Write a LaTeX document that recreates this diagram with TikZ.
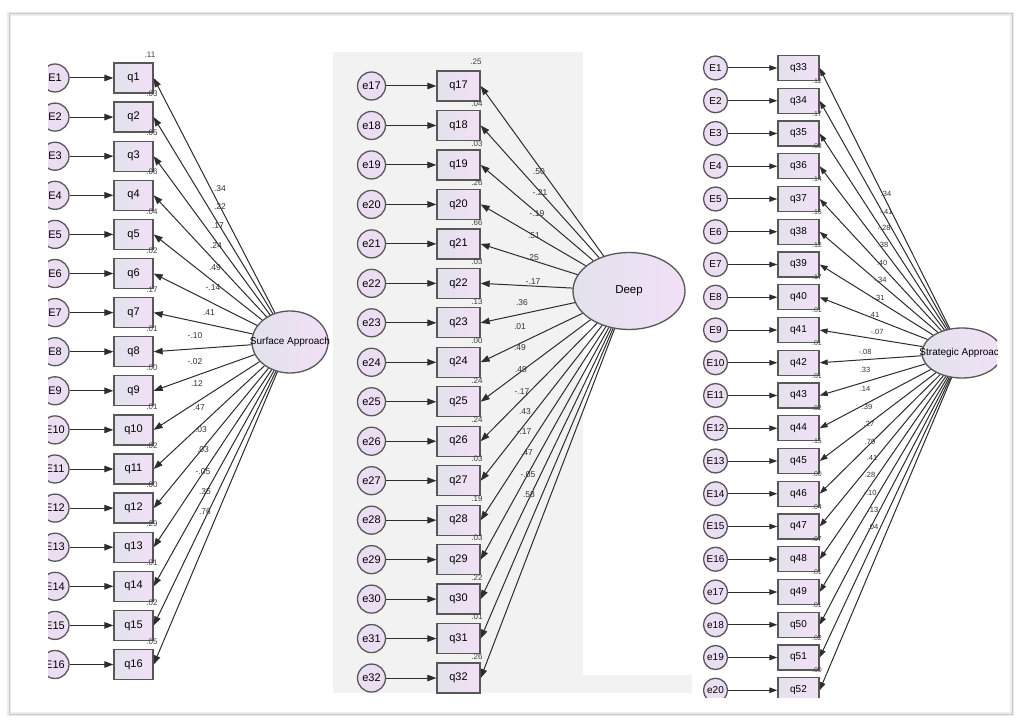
\documentclass[tikz,border=0pt]{standalone}
\usepackage{fontspec}
\setmainfont{Liberation Sans}
\usetikzlibrary{arrows.meta,shapes.geometric}
\definecolor{boxL}{RGB}{226,226,236}
\definecolor{boxR}{RGB}{242,224,246}
\definecolor{circF}{RGB}{236,222,242}
\definecolor{edgeC}{RGB}{88,88,88}
\definecolor{lineC}{RGB}{45,45,45}
\definecolor{panelG}{RGB}{242,242,242}
\definecolor{frameC}{RGB}{200,200,200}
\tikzset{
 obs/.style={draw=edgeC, line width=1.3pt, left color=boxL, right color=boxR, minimum width=39pt, minimum height=30pt, inner sep=0pt, font=\fontsize{11}{11}\selectfont},
 err/.style={circle, draw=edgeC, line width=1.3pt, fill=circF, minimum size=28pt, inner sep=0pt, font=\fontsize{11}{11}\selectfont},
 lat/.style={ellipse, draw=edgeC, line width=1.3pt, left color=boxL, right color=boxR, inner sep=0pt},
 loadarrow/.style={draw=lineC, line width=1pt, -{Triangle[length=9pt,width=6.5pt]}},
 coef/.style={font=\fontsize{8.5}{8.5}\selectfont, inner sep=0pt, text=black!80},
 rsq/.style={font=\fontsize{8}{8}\selectfont, inner sep=0pt, text=black!75},
}
\begin{document}
\begin{tikzpicture}[x=1pt,y=-1pt]
\fill[white] (0,0) rectangle (1022,727);
\useasboundingbox (0,0) rectangle (1022,727);
% frame
\draw[black!7, line width=4pt] (9,14) rectangle (1012,714);
\draw[frameC, line width=1pt] (9,14) rectangle (1012,714);
% middle grey panel
\fill[panelG] (333,52) rectangle (583,693);
\fill[panelG] (583,675) rectangle (692,693);

% ---------------- left panel ----------------
\begin{scope}
\clip (48,40) rectangle (333,700);
\node[lat, minimum width=76pt, minimum height=62pt] (sa) at (290,342) {};
\node[font=\fontsize{10}{10}\selectfont, inner sep=0pt] (satxt) at (sa.center) {Surface Approach};
\foreach \i in {1,...,16}{
  \pgfmathsetmacro\yy{78+39.1*(\i-1)}
  \node[err] (E\i) at (55,\yy) {E\i};
  \node[obs] (q\i) at (133.5,\yy) {q\i};
  \draw[loadarrow] (E\i) -- (q\i);
  \draw[loadarrow] (sa) -- (q\i.east);
}
\foreach \v/\x/\y [count=\i] in {.34/220/189,.22/220/207,.17/218/226,.24/216/246,.49/215/268,-.14/213/288,.41/209/313,-.10/195/336,-.02/195/362,.12/197/384,.47/199/408,.03/201/430,.03/203/450,-.05/203/472,.35/205/492,.76/205/512}{
  \node[coef] (lc\i) at (\x,\y) {\v};
}
\node[rsq] (lr0) at (150,55) {.11};
\foreach \v [count=\i] in {.03,.05,.06,.04,.02,.17,.01,.00,.01,.02,.00,.29,.01,.02,.05}{
  \pgfmathsetmacro\yy{78+39.1*(\i-1)+16}
  \node[rsq] (lr\i) at (152,\yy) {\v};
}
\end{scope}

% ---------------- middle panel ----------------
\node[lat, minimum width=112pt, minimum height=77pt] (deep) at (629,291) {};
\node[font=\fontsize{11.5}{11.5}\selectfont, inner sep=0pt] (deeptxt) at (deep.center) {Deep};
\foreach \i in {17,...,32}{
  \pgfmathsetmacro\yy{86+39.47*(\i-17)}
  \node[err] (e\i) at (371.5,\yy) {e\i};
  \node[obs, minimum width=43pt] (q\i) at (458.5,\yy) {q\i};
  \draw[loadarrow] (e\i) -- (q\i);
  \draw[loadarrow] (deep) -- (q\i.east);
}
\foreach \v/\x/\y [count=\i] in {.50/539/172,-.21/540/193,-.19/537/214,.51/534/236,.25/533/258,-.17/533/282,.36/522/303,.01/520/327,.49/520/348,.49/521/370,-.17/522/392,.43/525/412,-.17/524/432,.47/527/453,-.05/528/475,.58/529/495}{
  \node[coef] (mc\i) at (\x,\y) {\v};
}
\node[rsq] (mr0) at (476,62) {.25};
\foreach \v [count=\i] in {.04,.03,.26,.66,.03,.13,.00,.24,.24,.03,.19,.03,.22,.01,.26}{
  \pgfmathsetmacro\yy{86+39.47*(\i-1)+18}
  \node[rsq] (mr\i) at (477,\yy) {\v};
}

% ---------------- right panel ----------------
\begin{scope}
\clip (697,40) rectangle (997,697);
\node[lat, minimum width=80pt, minimum height=50pt] (st) at (962,353) {};
\node[font=\fontsize{10}{10}\selectfont, inner sep=0pt] (sttxt) at (st.center) {Strategic Approach};
\foreach \lab [count=\k] in {E1,E2,E3,E4,E5,E6,E7,E8,E9,E10,E11,E12,E13,E14,E15,E16,e17,e18,e19,e20}{
  \pgfmathsetmacro\yy{68+32.75*(\k-1)}
  \pgfmathtruncatemacro\qn{32+\k}
  \node[err, minimum size=24pt, font=\fontsize{10}{10}\selectfont] (r\k) at (715.5,\yy) {\lab};
  \node[obs, minimum width=41pt, minimum height=25pt, font=\fontsize{10}{10}\selectfont] (q\qn) at (798.5,\yy) {q\qn};
  \draw[loadarrow, -{Triangle[length=8pt,width=5.5pt]}] (r\k) -- (q\qn);
  \draw[loadarrow, -{Triangle[length=8pt,width=5.5pt]}] (st) -- (q\qn.east);
}
\foreach \v/\x/\y [count=\i] in {.34/886/194,-.41/886/212,-.28/884/228,.38/883/245,.40/882/263,-.34/880/280,-.31/878/298,.41/874/315,-.07/877/332,-.08/865/352,.33/865/370,.14/865/389,.39/867/407,.27/869/424,.79/870/442,.41/872/458,.28/870/475,-.10/870/493,.13/873/510,.04/873/527}{
  \node[coef, font=\fontsize{7.5}{7.5}\selectfont] (rc\i) at (\x,\y) {\v};
}
\foreach \v [count=\i] in {.12,.17,.08,.14,.16,.12,.17,.01,.01,.01,.02,.15,.00,.04,.07,.01,.01,.02,.00}{
  \pgfmathsetmacro\yy{68+32.75*(\i-1)+13}
  \node[rsq, font=\fontsize{7}{7}\selectfont] (rr\i) at (817,\yy) {\v};
}
\end{scope}
\end{tikzpicture}
\end{document}
